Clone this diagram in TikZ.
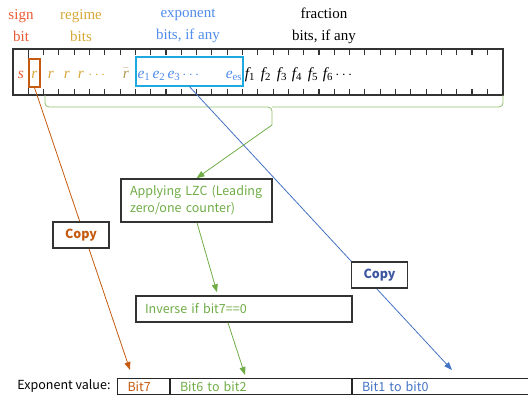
\documentclass[tikz,border=0pt]{standalone}
\usepackage{amsmath}
\usepackage{xcolor}
\usepackage{fontspec}
\setmainfont{Liberation Serif}
\setsansfont{Noto Sans CJK SC}
\usepackage{tikz}
\usetikzlibrary{positioning,%
  arrows.meta,%
  calc
}

\definecolor{signc}{RGB}{235,90,50}
\definecolor{regc}{RGB}{214,168,55}
\definecolor{expc}{RGB}{80,140,235}
\definecolor{lorange}{RGB}{197,90,17}
\definecolor{lgreen}{RGB}{112,173,71}
\definecolor{lblue}{RGB}{68,114,196}
\definecolor{eboxc}{RGB}{30,170,225}
\definecolor{copyblue}{RGB}{60,85,160}

\newcommand{\bitv}[2]{$\mathit{#1}_{\mathrm{#2}}$}

\tikzset{
  toplabel/.style={align=center,font=\fontsize{15}{22}\selectfont},
  bitsym/.style={anchor=base,inner sep=0pt,font=\fontsize{15.5}{18}\selectfont},
  stepbox/.style={draw=black!80,line width=1.5pt,fill=white,font=\sffamily\fontsize{12.5}{17}\selectfont},
  copybox/.style={stepbox,font=\sffamily\bfseries\fontsize{12.5}{14}\selectfont,minimum width=56,minimum height=26},
  cell/.style={draw=black!85,line width=1pt,minimum height=16,anchor=north west,inner sep=0pt,
    font=\sffamily\fontsize{12.5}{14}\selectfont,text depth=0pt},
  link/.style={line width=0.8pt,-{Triangle[length=8pt,width=6pt]}},
  bracket/.style={lgreen!80,line width=0.8pt,rounded corners=4pt}
}

\begin{document}
\begin{tikzpicture}[x=1pt,y=-1pt]
            \useasboundingbox (0,0) rectangle (528,400);

            % labels above the bits
            \node[toplabel,signc] (signlbl) at (21,26) {sign\\bit};
            \node[toplabel,regc] (reglbl) at (81,26) {regime\\bits};
            \node[toplabel,expc] (explbl) at (188,26) {exponent\\bits, if any};
            \node[toplabel] (fraclbl) at (324,26) {fraction\\bits, if any};

            % the bit string
            \draw[line width=1.6pt,black!80] (13,49) rectangle (503,95);
            \draw[line width=1.4pt,black!80] (28.3,49) -- (28.3,95);
            \foreach \i in {1,...,30} {
                \draw[line width=1.1pt,black!80] (28.3+15.3*\i,49) -- ++(0,6);
                \draw[line width=1.1pt,black!80] (28.3+15.3*\i,95) -- ++(0,-6);
            }
            \node[bitsym,signc] at (21,78) {$\mathit{s}$};
            \foreach \x in {51,67,81} {
                \node[bitsym,regc] at (\x,78) {$\mathit{r}$};
            }
            \node[bitsym,regc] at (98,78) {$\cdots$};
            \node[bitsym,regc!60!gray] at (126,78) {$\bar{\mathit{r}}$};
            \foreach \x/\n in {144/1,159/2,174/3} {
                \node[bitsym,expc] at (\x,78) {\bitv{e}{\n}};
            }
            \node[bitsym,expc] at (192,78) {$\cdots$};
            \node[bitsym,expc] at (234,78) {\bitv{e}{es}};
            \foreach \x/\n in {250/1,266/2,282/3,297/4,313/5,328/6} {
                \node[bitsym] at (\x,78) {\bitv{f}{\n}};
            }
            \node[bitsym] at (345,78) {$\cdots$};
            \node[draw=lorange,line width=1.3pt,minimum width=11,minimum height=28,inner sep=0pt] (rbox) at (34.5,73) {};
            \node[bitsym,regc] at (34.5,78) {$\mathit{r}$};
            \node[draw=eboxc,line width=1.3pt,minimum width=107,minimum height=29,inner sep=0pt] (expbox) at (189.5,71.5) {};

            % brace under the regime, exponent and fraction bits
            \coordinate (bracetip) at (272,125);
            \draw[bracket] (45,95) |- (272,107) -- (bracetip);
            \draw[bracket] (272,107) -| (503,95);

            % exponent value fields
            \node[font=\sffamily\fontsize{12.5}{14}\selectfont,anchor=east] (explabel) at (114,386) {Exponent value:};
            \node[cell,text=lorange,minimum width=52,text width=44] (bit7) at (117,378) {\hspace*{6pt}Bit7};
            \node[cell,text=lgreen,minimum width=181,text width=174] (bit62) at (bit7.north east) {\hspace*{6pt}Bit6 to bit2};
            \node[cell,text=lblue,minimum width=185,text width=178] (bit10) at (bit62.north east) {\hspace*{6pt}Bit1 to bit0};
            \coordinate (bit7in) at (130,370);
            \coordinate (bit62in) at (245,375);
            \coordinate (bit10in) at (452,370);

            % copy paths
            \draw[link,lorange] (rbox.south) -- (bit7in);
            \draw[link,lblue] (expbox.south) -- (bit10in);

            % steps
            \node[stepbox,text=lgreen,minimum width=151,minimum height=43,text width=133,align=left] (lzc) at (196.5,200.5) {Applying LZC (Leading\\zero/one counter)};
            \node[stepbox,text=lgreen,minimum width=216,minimum height=26,text width=198,align=left] (inverse) at (244,309) {Inverse if bit7==0};
            \node[copybox,text=lorange] (copyr) at (81,235) {Copy};
            \node[copybox,text=copyblue] (copye) at (379.5,275) {Copy};

            \draw[link,lgreen] (bracetip) -- (lzc.north);
            \draw[link,lgreen] ($(lzc.south)+(0.5,0)$) -- ($(inverse.north)+(-27,-3)$);
            \draw[link,lgreen] ($(inverse.south)+(-16,0)$) -- (bit62in);
        \end{tikzpicture}
\end{document}
